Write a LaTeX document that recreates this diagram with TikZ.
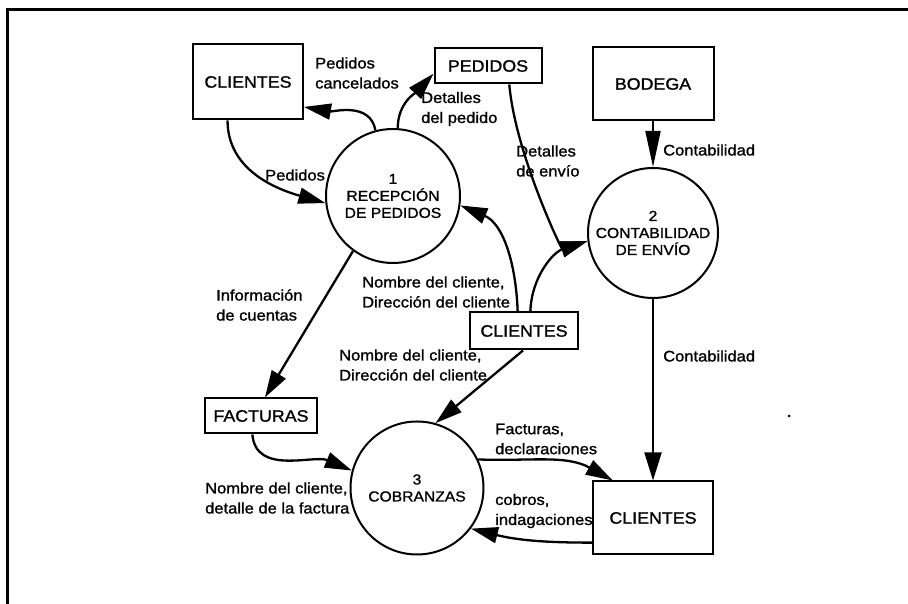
\documentclass[tikz,border=0pt]{standalone}
\usepackage{fontspec}
\setmainfont{Liberation Sans}[FakeStretch=1.08,FakeBold=1.2]
\usetikzlibrary{arrows.meta}
\newcommand\boxfnt{\fontsize{16.5}{20}\selectfont}
\newcommand\procfnt{\fontsize{14.5}{17}\selectfont}
\newcommand\lblfnt{\fontsize{15.3}{20}\selectfont}
\begin{document}
\begin{tikzpicture}[x=1pt,y=1pt,
  box/.style={draw, line width=2pt, inner sep=0pt, font=\boxfnt},
  proc/.style={circle, draw, line width=2pt, inner sep=0pt, align=center, font=\procfnt},
  flow/.style={line width=2.3pt, -{Triangle[length=27pt,width=16pt]}},
  vflow/.style={line width=1.9pt, -{Triangle[length=28pt,width=17pt]}},
  lbl/.style={anchor=west, align=left, inner sep=0pt, font=\lblfnt}]
\useasboundingbox (0,0) rectangle (908,604);
% frame
\draw[line width=3pt] (7,0) -- (7,594.5) -- (908,594.5);
% stores / entities
\node[box, minimum width=110pt, minimum height=75pt] (c1) at (248,522) {CLIENTES};
\node[box, minimum width=107pt, minimum height=35pt] (ped) at (488,538) {PEDIDOS};
\node[box, minimum width=121pt, minimum height=73pt] (bod) at (653,520) {BODEGA};
\node[proc, minimum size=134pt] (p1) at (393,408) {1\\RECEPCIÓN\\DE PEDIDOS};
\node[proc, minimum size=130pt] (p2) at (653,371) {2\\CONTABILIDAD\\DE ENVÍO};
\node[box, minimum width=108pt, minimum height=37pt] (cm) at (524,273) {CLIENTES};
\node[box, minimum width=112pt, minimum height=35pt] (fac) at (261,188) {FACTURAS};
\node[proc, minimum size=133pt] (p3) at (417,116) {3\\COBRANZAS};
\node[box, minimum width=120pt, minimum height=73pt] (cb) at (653,86) {CLIENTES};
% flows
\draw[flow] (c1.242) to[out=-90,in=164] (p1.186);
\draw[flow] (p1.105) to[out=100,in=-10] (c1.-24);
\draw[flow] (p1.86) to[out=90,in=-133] (ped.188);
\draw[flow] (ped.-41) to[out=-85,in=198,in looseness=0.4] (p2.187);
\draw[flow] (cm.108) to[out=92,in=-23] (p1.-8);
\draw[flow] (cm.72) to[out=88,in=198] (p2.187);
\draw[flow] (p1.234) -- (fac.78);
\draw[flow] (cm.-93) -- (p3.74);
\draw[flow] (fac.245) to[out=-85,in=157] (p3.165);
\draw[flow] (p3.25) to[out=-2,in=151] (cb.137);
\draw[flow] (cb.202) to[out=180,in=-14] (p3.-37);
\draw[line width=1.9pt, -{Triangle[length=36pt,width=15pt]}] (bod.south) -- (p2.north);
\draw[vflow] (p2.south) -- (cb.north);
% labels
\node[lbl] (l1) at (315,531) {Pedidos\\cancelados};
\node[lbl] (l2) at (421,495) {Detalles\\del pedido};
\node[lbl] (l3) at (265,429) {Pedidos};
\node[lbl] (l4) at (516,443) {Detalles\\de envío};
\node[lbl] (l5) at (663,454) {Contabilidad};
\node[lbl] (l6) at (362,312) {Nombre del cliente,\\Dirección del cliente};
\node[lbl] (l7) at (216,299) {Información\\de cuentas};
\node[lbl] (l8) at (339,239) {Nombre del cliente,\\Dirección del cliente};
\node[lbl] (l9) at (495,165) {Facturas,\\declaraciones};
\node[lbl] (l10) at (205,106) {Nombre del cliente,\\detalle de la factura};
\node[lbl] (l11) at (495,93) {cobros,\\indagaciones};
\node[lbl] (l12) at (663,248) {Contabilidad};
\fill (789,188) circle (1.5pt);
\end{tikzpicture}
\end{document}
